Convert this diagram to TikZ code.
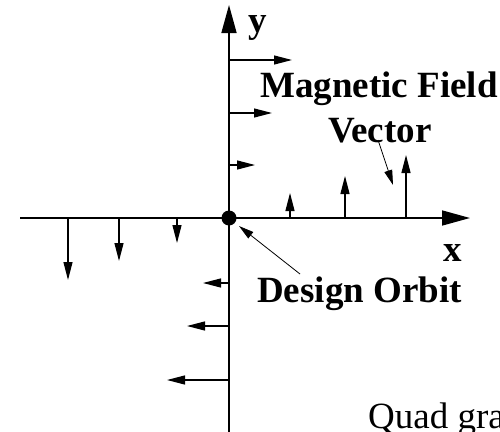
\documentclass[tikz,border=0pt]{standalone}
\usepackage{fontspec}
\setmainfont{Liberation Serif}
\usetikzlibrary{arrows.meta}
\begin{document}
\begin{tikzpicture}[x=1pt,y=-1pt,
  axis/.style={line width=1.6pt,-{Triangle[length=28pt,width=15pt]}},
  vec/.style={line width=1.2pt,-{Triangle[length=18pt,width=9pt]}},
  ptr/.style={line width=0.8pt,-{Triangle[length=15pt,width=8pt]}},
  lbl/.style={inner sep=0pt,anchor=base west,font=\fontsize{37}{40}\selectfont\bfseries},
  plain/.style={inner sep=0pt,anchor=base west,font=\fontsize{37}{40}\selectfont},
  ]
\useasboundingbox (0,0) rectangle (500,431);
\clip (0,0) rectangle (500,431);
% axes
\coordinate (O) at (229,218);
\coordinate (xl) at (20,218);
\coordinate (xr) at (470,218);
\coordinate (yb) at (229,440);
\coordinate (yt) at (229,5);
\draw[axis] (xl) -- (xr);
\draw[axis] (yb) -- (yt);
% field vectors: right (upper y axis)
\coordinate (r1a) at (229,60);  \coordinate (r1b) at (292,60);
\coordinate (r2a) at (229,113); \coordinate (r2b) at (272,113);
\coordinate (r3a) at (229,165); \coordinate (r3b) at (255,165);
\draw[vec] (r1a) -- (r1b);
\draw[vec] (r2a) -- (r2b);
\draw[vec] (r3a) -- (r3b);
% up (positive x axis)
\coordinate (u1a) at (290,218); \coordinate (u1b) at (290,193);
\coordinate (u2a) at (345,218); \coordinate (u2b) at (345,176);
\coordinate (u3a) at (406,218); \coordinate (u3b) at (406,155);
\draw[vec] (u1a) -- (u1b);
\draw[vec] (u2a) -- (u2b);
\draw[vec] (u3a) -- (u3b);
% down (negative x axis)
\coordinate (d1a) at (68,218);  \coordinate (d1b) at (68,280);
\coordinate (d2a) at (119,218); \coordinate (d2b) at (119,261);
\coordinate (d3a) at (177,218); \coordinate (d3b) at (177,243);
\draw[vec] (d1a) -- (d1b);
\draw[vec] (d2a) -- (d2b);
\draw[vec] (d3a) -- (d3b);
% left (negative y axis)
\coordinate (l1a) at (229,283); \coordinate (l1b) at (203,283);
\coordinate (l2a) at (229,326); \coordinate (l2b) at (187,326);
\coordinate (l3a) at (229,380); \coordinate (l3b) at (167,380);
\draw[vec] (l1a) -- (l1b);
\draw[vec] (l2a) -- (l2b);
\draw[vec] (l3a) -- (l3b);
% design orbit dot
\node[circle,fill,inner sep=0pt,minimum size=15pt] (orbit) at (O) {};
% labels
\node[lbl] (ylab) at (248,32) {y};
\node[lbl] (xlab) at (443,261) {x};
\node[lbl] (mag) at (260,97) {Magnetic Field};
\node[lbl] (vecl) at (328,142) {Vector};
\node[lbl] (des) at (257,302) {Design Orbit};
\node[plain] (quad) at (368,428) {Quad gra};
% pointers
\coordinate (pv1) at (378,140); \coordinate (pv2) at (393,185);
\draw[ptr] (pv1) -- (pv2);
\coordinate (pd1) at (300,274); \coordinate (pd2) at (239,226);
\draw[ptr] (pd1) -- (pd2);
\end{tikzpicture}
\end{document}
